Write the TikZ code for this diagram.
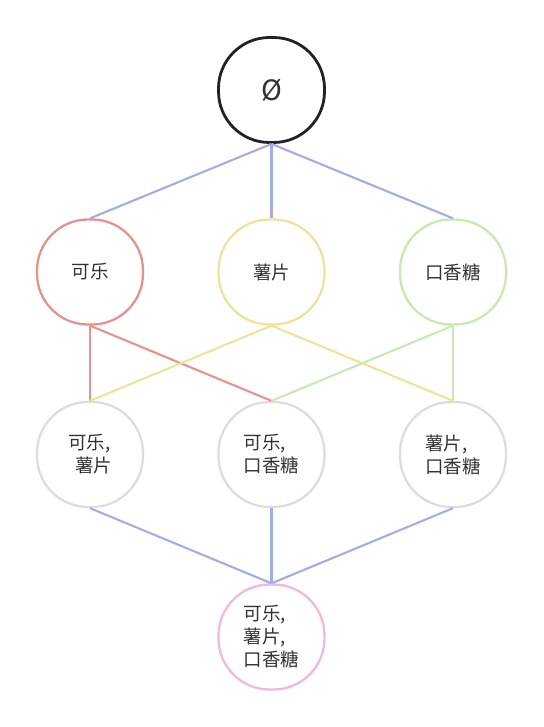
\documentclass[tikz,border=0pt]{standalone}
\usepackage{fontspec}
\newfontfamily\cjk{Noto Sans CJK SC}
\usetikzlibrary{positioning}
\definecolor{edgeblue}{HTML}{A3ACE8}
\definecolor{kred}{HTML}{E8928E}
\definecolor{kyel}{HTML}{EDE29E}
\definecolor{kgrn}{HTML}{C9E9B2}
\definecolor{kgray}{HTML}{DDDDDD}
\definecolor{kpink}{HTML}{F0B9D9}
\definecolor{kdark}{HTML}{1F2328}
\definecolor{ktext}{HTML}{333333}
\begin{document}
\begin{tikzpicture}[x=1pt,y=-1pt,
  setnode/.style={draw, line width=2.3pt, rounded corners=51pt, minimum width=106pt, minimum height=105pt, inner sep=0pt, font=\cjk\fontsize{18.5}{23}\selectfont, text=ktext, align=left},
  link/.style={line width=2.1pt}]
\useasboundingbox (0,0) rectangle (543,727);
\node[setnode, draw=kdark, line width=2.8pt, font=\cjk\fontsize{28}{30}\selectfont] (e) at (271.5,90) {Ø};
\node[setnode, draw=kred] (a) at (90,272) {可乐};
\node[setnode, draw=kyel] (b) at (271.5,272) {薯片};
\node[setnode, draw=kgrn] (c) at (453,272) {口香糖};
\node[setnode, draw=kgray] (ab) at (90,454.5) {可乐,\\\hspace*{7pt}薯片};
\node[setnode, draw=kgray] (ac) at (271.5,454.5) {可乐,\\口香糖};
\node[setnode, draw=kgray] (bc) at (453,454.5) {薯片,\\口香糖};
\node[setnode, draw=kpink] (abc) at (271.5,637) {可乐,\\薯片,\\口香糖};
\draw[link, edgeblue] (e.south) -- (a.north);
\draw[link, edgeblue] (e.south) -- (b.north);
\draw[link, edgeblue] (e.south) -- (c.north);
\draw[link, kred] (a.south) -- (ab.north);
\draw[link, kred] (a.south) -- (ac.north);
\draw[link, kyel] (b.south) -- (ab.north);
\draw[link, kyel] (b.south) -- (bc.north);
\draw[link, kgrn] (c.south) -- (ac.north);
\draw[link, kgrn] (c.south) -- (bc.north);
\draw[link, edgeblue] (ab.south) -- (abc.north);
\draw[link, edgeblue] (ac.south) -- (abc.north);
\draw[link, edgeblue] (bc.south) -- (abc.north);
\end{tikzpicture}
\end{document}
